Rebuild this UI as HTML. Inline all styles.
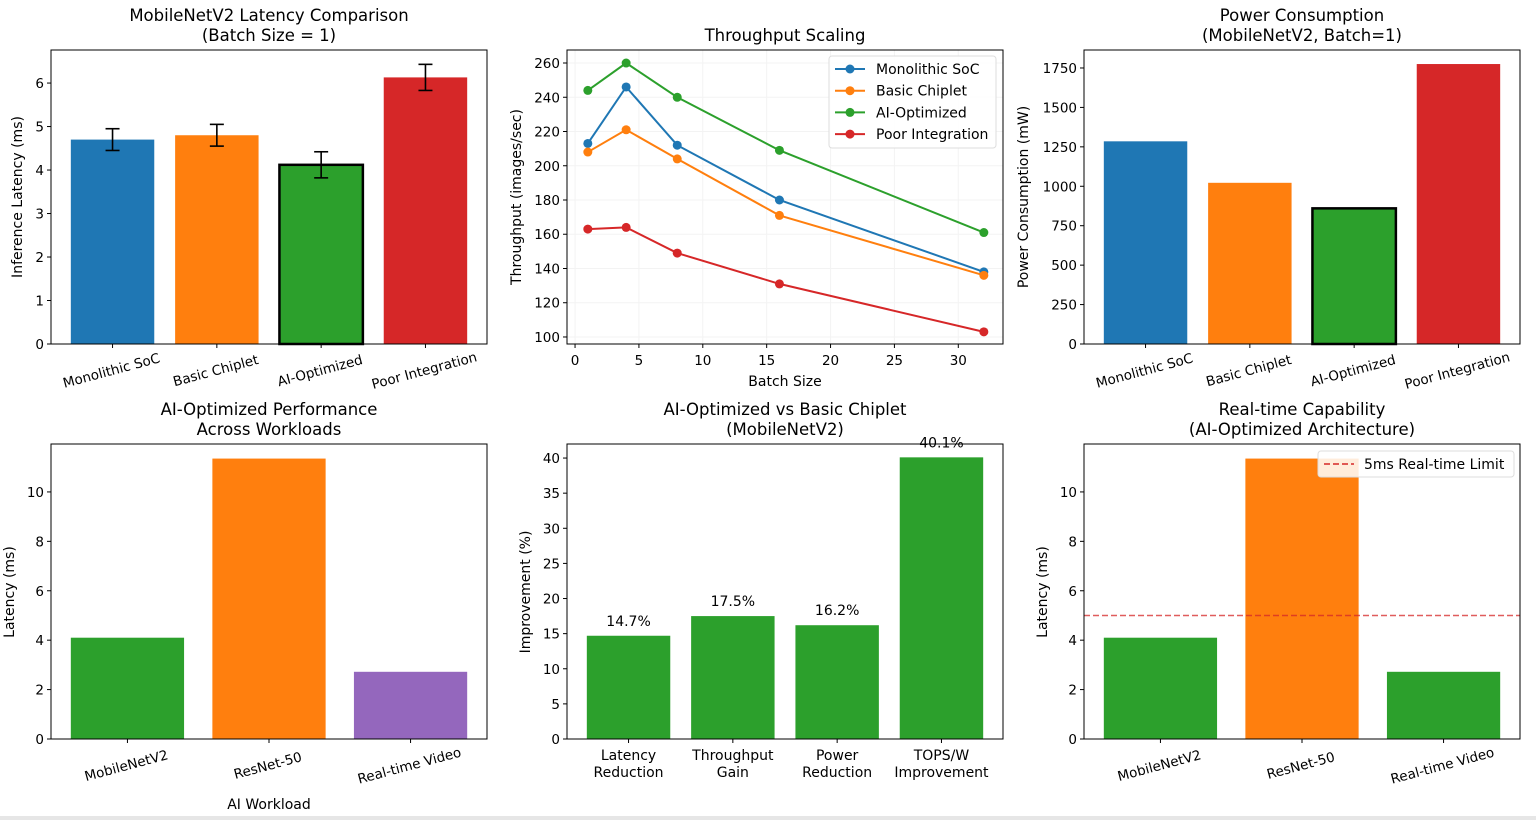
<!DOCTYPE html>
<html><head><meta charset="utf-8"><style>
body{margin:0;background:#fff;width:1536px;height:820px;overflow:hidden}
svg{font-family:"DejaVu Sans","Liberation Sans",sans-serif}
</style></head><body>
<svg id="s" width="1536" height="820"></svg>
<script>
const archCats=["Monolithic SoC","Basic Chiplet","AI-Optimized","Poor Integration"];
const archColors=["#1f77b4","#ff7f0e","#2ca02c","#d62728"];
const latency=[4.7,4.8,4.12,6.13];
const latencyErr=[0.25,0.25,0.3,0.3];
const latTicks=[0,1,2,3,4,5,6];
const batch=[1,4,8,16,32];
const thrMono=[213,246,212,180,138];
const thrBasic=[208,221,204,171,136];
const thrAI=[244,260,240,209,161];
const thrPoor=[163,164,149,131,103];
const thrYTicks=[100,120,140,160,180,200,220,240,260];
const thrXTicks=[0,5,10,15,20,25,30];
const power=[1285,1022,860,1775];
const powTicks=[0,250,500,750,1000,1250,1500,1750];
const workloads=["MobileNetV2","ResNet-50","Real-time Video"];
const wlLatency=[4.1,11.35,2.72];
const wlTicks=[0,2,4,6,8,10];
const impCats=[["Latency","Reduction"],["Throughput","Gain"],["Power","Reduction"],["TOPS/W","Improvement"]];
const improvement=[14.7,17.5,16.2,40.1];
const impTicks=[0,5,10,15,20,25,30,35,40];
const rtLimit=5;

const S=document.getElementById('s');const NS='http://www.w3.org/2000/svg';
function el(t,a,p,txt){const e=document.createElementNS(NS,t);for(const k in a)e.setAttribute(k,a[k]);if(txt!==undefined)e.textContent=txt;(p||S).appendChild(e);return e;}
function axes(name,x0,y0,x1,y1,ymin,ymax,xmin,xmax){
 const g=el('g',{});
 return {g,x0,y0,x1,y1,sy:v=>y1-(v-ymin)/(ymax-ymin)*(y1-y0),sx:v=>x0+(v-xmin)/(xmax-xmin)*(x1-x0)};
}
function frame(A){const r=el('rect',{x:A.x0,y:A.y0,width:A.x1-A.x0,height:A.y1-A.y0,fill:'none',stroke:'#000','stroke-width':1},A.g);}
function yticks(A,ticks,fmt){ticks.forEach(t=>{const y=A.sy(t);el('line',{x1:A.x0-4,x2:A.x0,y1:y,y2:y,stroke:'#000'},A.g);const tx=el('text',{x:A.x0-7,y:y+5,'text-anchor':'end','font-size':13.5},A.g,fmt?fmt(t):t);});}
function title(x,lines,y){lines.forEach((l,i)=>{const t=el('text',{x:x,y:y+i*20,'text-anchor':'middle','font-size':16.5},S,l);});}
function ylabel(x,y,txt){const t=el('text',{x:0,y:0,transform:`translate(${x},${y}) rotate(-90)`,'text-anchor':'middle','font-size':14},S,txt);}
function bars(A,cats,vals,colors,n,rotate,edge){
 cats.forEach((c,i)=>{const cx=A.sx(i);const w=A.sx(0.4)-A.sx(-0.4);const y=A.sy(vals[i]);
  const r=el('rect',{x:cx-w/2,y:y,width:w,height:A.y1-y,fill:colors[i],stroke:edge&&edge[i]?'#000':'none','stroke-width':edge&&edge[i]?2.5:0},A.g);
  
  el('line',{x1:cx,x2:cx,y1:A.y1,y2:A.y1+4,stroke:'#000'},A.g);
  if(rotate){const t=el('text',{x:0,y:0,transform:`translate(${cx},${A.y1+31}) rotate(-15)`,'text-anchor':'middle','font-size':13.5},A.g,c);}
 });
}
const bxl=n=>[-0.4-0.05*(n-0.2),n-0.6+0.05*(n-0.2)];

// Chart 1
let xl=bxl(4);
let A=axes('latency-chart',51,50,487,344,0,6.76,xl[0],xl[1]);
bars(A,archCats,latency,archColors,4,true,[0,0,1,0]);
latency.forEach((v,i)=>{const cx=A.sx(i),t=A.sy(v+latencyErr[i]),b=A.sy(v-latencyErr[i]);
 const g=el('g',{stroke:'#000','stroke-width':1.6},A.g);
 el('line',{x1:cx,x2:cx,y1:t,y2:b},g);el('line',{x1:cx-7,x2:cx+7,y1:t,y2:t},g);el('line',{x1:cx-7,x2:cx+7,y1:b,y2:b},g);});
frame(A);yticks(A,latTicks);
title(269,["MobileNetV2 Latency Comparison","(Batch Size = 1)"],21);
ylabel(22,197,"Inference Latency (ms)");

// Chart 2
A=axes('throughput-chart',567,50,1003,344,95.9,267.6,-0.63,33.5);
thrXTicks.forEach(t=>{const x=A.sx(t);el('line',{x1:x,x2:x,y1:A.y0,y2:A.y1,stroke:'#f3f3f3'},A.g);el('line',{x1:x,x2:x,y1:A.y1,y2:A.y1+4,stroke:'#000'},A.g);const tx=el('text',{x:x,y:A.y1+21,'text-anchor':'middle','font-size':13.5},A.g,t);});
thrYTicks.forEach(t=>{const y=A.sy(t);el('line',{x1:A.x0,x2:A.x1,y1:y,y2:y,stroke:'#f3f3f3'},A.g);});
const series=[["Monolithic SoC",thrMono,"#1f77b4"],["Basic Chiplet",thrBasic,"#ff7f0e"],["AI-Optimized",thrAI,"#2ca02c"],["Poor Integration",thrPoor,"#d62728"]];
series.forEach(s=>{const g=el('g',{},A.g);
 el('polyline',{points:batch.map((b,i)=>A.sx(b)+','+A.sy(s[1][i])).join(' '),fill:'none',stroke:s[2],'stroke-width':2},g);
 batch.forEach((b,i)=>{const c=el('circle',{cx:A.sx(b),cy:A.sy(s[1][i]),r:4.5,fill:s[2]},g);});});
frame(A);yticks(A,thrYTicks);
const lg=el('g',{},A.g);
el('rect',{x:829,y:56,width:167,height:92,fill:'#fff','fill-opacity':0.85,stroke:'#ddd',rx:3},lg);
series.forEach((s,i)=>{const y=69+i*21.7;el('line',{x1:835,x2:865,y1:y,y2:y,stroke:s[2],'stroke-width':2},lg);el('circle',{cx:850,cy:y,r:4.5,fill:s[2]},lg);const t=el('text',{x:876,y:y+5,'font-size':14},lg,s[0]);});
title(785,["Throughput Scaling"],41);
ylabel(521,197,"Throughput (images/sec)");
{const t=el('text',{x:785,y:386,'text-anchor':'middle','font-size':14},S,"Batch Size");}

// Chart 3
A=axes('power-chart',1084,50,1520,344,0,1864,xl[0],xl[1]);
bars(A,archCats,power,archColors,4,true,[0,0,1,0]);
frame(A);yticks(A,powTicks);
title(1302,["Power Consumption","(MobileNetV2, Batch=1)"],21);
ylabel(1028,197,"Power Consumption (mW)");

// Chart 4
xl=bxl(3);
A=axes('workload-chart',51,444,487,739,0,11.94,xl[0],xl[1]);
bars(A,workloads,wlLatency,["#2ca02c","#ff7f0e","#9467bd"],3,true);
frame(A);yticks(A,wlTicks);
title(269,["AI-Optimized Performance","Across Workloads"],415);
ylabel(14,592,"Latency (ms)");
{const t=el('text',{x:269,y:809,'text-anchor':'middle','font-size':14},S,"AI Workload");}

// Chart 5
let xl4=bxl(4);
A=axes('improvement-chart',567,444,1003,739,0,42,xl4[0],xl4[1]);
bars(A,impCats,improvement,improvement.map(()=>"#2ca02c"),4,false);
impCats.forEach((c,i)=>{c.forEach((l,j)=>{const t=el('text',{x:A.sx(i),y:A.y1+21+j*17,'text-anchor':'middle','font-size':14},A.g,l);});
 const t=el('text',{x:A.sx(i),y:A.sy(improvement[i])-10,'text-anchor':'middle','font-size':14},A.g,improvement[i].toFixed(1)+'%');});
frame(A);yticks(A,impTicks);
title(785,["AI-Optimized vs Basic Chiplet","(MobileNetV2)"],415);
ylabel(530,592,"Improvement (%)");

// Chart 6
A=axes('realtime-chart',1084,444,1520,739,0,11.94,xl[0],xl[1]);
bars(A,workloads,wlLatency,["#2ca02c","#ff7f0e","#2ca02c"],3,true);
{const y=A.sy(rtLimit);const l=el('line',{x1:A.x0,x2:A.x1,y1:y,y2:y,stroke:'#d62728','stroke-width':1.5,'stroke-dasharray':'6,3','opacity':0.75},A.g);}
frame(A);yticks(A,wlTicks);
{const g=el('g',{},A.g);
 el('rect',{x:1318,y:451,width:196,height:26,fill:'#fff','fill-opacity':0.85,stroke:'#ddd',rx:3},g);
 el('line',{x1:1324,x2:1354,y1:464,y2:464,stroke:'#d62728','stroke-width':1.5,'stroke-dasharray':'6,3'},g);
 const t=el('text',{x:1364,y:469,'font-size':14},g,"5ms Real-time Limit");}
title(1302,["Real-time Capability","(AI-Optimized Architecture)"],415);
ylabel(1047,592,"Latency (ms)");
el('rect',{x:0,y:816,width:1536,height:4,fill:'#e6e6e6'});
</script>
</body></html>
